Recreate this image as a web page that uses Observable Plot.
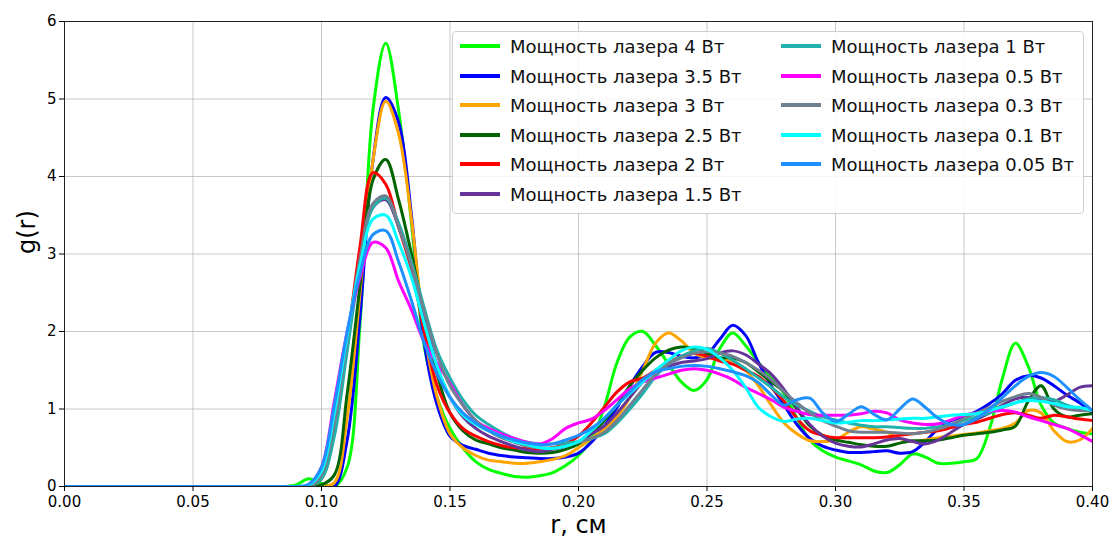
<!DOCTYPE html>
<html>
<head>
<meta charset="utf-8">
<script src="https://cdn.jsdelivr.net/npm/d3@7"></script>
<script src="https://cdn.jsdelivr.net/npm/@observablehq/plot@0.6"></script>
<style>
  html, body { margin: 0; padding: 0; background: #fff; }
  #wrap { position: relative; width: 1114px; height: 544px; font-family: "DejaVu Sans", sans-serif; }
  .legend { position: absolute; left: 452px; top: 31px; width: 632px; height: 183px;
    border: 1px solid #d0d0d0; border-radius: 4px; background: rgba(255,255,255,0.85); box-sizing: border-box; }
  .item { position: absolute; height: 22px; display: flex; align-items: center; font-size: 18px; color: #111; white-space: nowrap; }
  .swatch { width: 40px; height: 4px; margin-right: 10px; }
</style>
</head>
<body>
<div id="wrap"></div>
<script>
// r grid (cm)
const r = [0, 0.08, 0.085, 0.09, 0.095,
  0.1, 0.105, 0.11, 0.115, 0.12,
  0.125, 0.13, 0.135, 0.14, 0.145,
  0.15, 0.155, 0.16, 0.165, 0.17,
  0.175, 0.18, 0.185, 0.19, 0.195,
  0.2, 0.205, 0.21, 0.215, 0.22,
  0.225, 0.23, 0.235, 0.24, 0.245,
  0.25, 0.255, 0.26, 0.265, 0.27,
  0.275, 0.28, 0.285, 0.29, 0.295,
  0.3, 0.305, 0.31, 0.315, 0.32,
  0.325, 0.33, 0.335, 0.34, 0.345,
  0.35, 0.355, 0.36, 0.365, 0.37,
  0.375, 0.38, 0.385, 0.39, 0.395,
  0.4];

const g4 = [0, 0, 0, 0.02, 0.1,
  0.04, 0, 0.25, 2.1, 4.85,
  5.72, 4.85, 3.4, 1.8, 1.15,
  0.75, 0.5, 0.32, 0.22, 0.17,
  0.13, 0.12, 0.14, 0.18, 0.27,
  0.4, 0.6, 1.02, 1.6, 1.93,
  2.0, 1.82, 1.58, 1.35, 1.24,
  1.38, 1.78, 1.98, 1.82, 1.6,
  1.4, 1.2, 0.88, 0.6, 0.46,
  0.38, 0.33, 0.28, 0.2, 0.18,
  0.28, 0.42, 0.38, 0.3, 0.3,
  0.32, 0.36, 0.75, 1.4, 1.85,
  1.55, 1.05, 0.82, 0.75, 0.7,
  0.68];

const g3_5 = [0, 0, 0, 0, 0,
  0, 0, 0.6, 2.2, 4.2,
  5.02, 4.7, 3.5, 1.85, 1.05,
  0.65, 0.53, 0.48, 0.43, 0.4,
  0.38, 0.37, 0.36, 0.36, 0.38,
  0.43, 0.57, 0.78, 1.02, 1.3,
  1.55, 1.73, 1.73, 1.68, 1.66,
  1.71, 1.9, 2.08, 1.95, 1.6,
  1.3, 1.05, 0.8, 0.62, 0.52,
  0.47, 0.44, 0.44, 0.45, 0.46,
  0.43, 0.45, 0.58, 0.75, 0.85,
  0.9, 0.97, 1.07, 1.2, 1.37,
  1.43, 1.4, 1.3, 1.18, 1.08,
  0.95];

const g3 = [0, 0, 0, 0, 0,
  0, 0.05, 0.9, 2.5, 4.2,
  4.97, 4.55, 3.45, 2.0, 1.15,
  0.68, 0.5, 0.4, 0.34, 0.32,
  0.3, 0.3, 0.32, 0.35, 0.4,
  0.5, 0.62, 0.74, 0.9, 1.15,
  1.5, 1.85, 1.98, 1.88, 1.72,
  1.66, 1.64, 1.62, 1.5, 1.3,
  1.05, 0.82, 0.68, 0.59, 0.58,
  0.6, 0.7, 0.77, 0.74, 0.7,
  0.62, 0.58, 0.6, 0.63, 0.65,
  0.67, 0.69, 0.72, 0.75, 0.82,
  0.98, 0.95, 0.72, 0.58, 0.6,
  0.75];

const g2_5 = [0, 0, 0, 0, 0,
  0.02, 0.15, 1.2, 2.6, 3.95,
  4.22, 3.7, 3.0, 2.2, 1.45,
  0.95, 0.72, 0.6, 0.55, 0.5,
  0.47, 0.44, 0.43, 0.44, 0.48,
  0.55, 0.68, 0.85, 1.05, 1.3,
  1.5, 1.66, 1.76, 1.8, 1.78,
  1.72, 1.66, 1.66, 1.6, 1.48,
  1.35, 1.22, 1.0, 0.78, 0.66,
  0.6, 0.57, 0.54, 0.52, 0.52,
  0.56, 0.59, 0.59, 0.6, 0.63,
  0.66, 0.68, 0.7, 0.73, 0.78,
  1.1, 1.3, 1.0, 0.9, 0.92,
  0.94];

const g2 = [0, 0, 0, 0, 0,
  0.1, 0.7, 1.85, 3.1, 4.05,
  3.9, 3.35, 2.8, 2.0, 1.3,
  0.95, 0.75, 0.65, 0.58, 0.53,
  0.5, 0.49, 0.48, 0.5, 0.55,
  0.65, 0.82, 1.02, 1.22, 1.35,
  1.4, 1.5, 1.6, 1.68, 1.72,
  1.68, 1.62, 1.58, 1.5, 1.42,
  1.28, 1.1, 0.88, 0.72, 0.66,
  0.63, 0.63, 0.63, 0.63, 0.64,
  0.66, 0.68, 0.7, 0.72, 0.76,
  0.8, 0.83, 0.88, 0.93, 0.95,
  0.92, 0.88, 0.92, 0.9, 0.87,
  0.85];

const g1_5 = [0, 0, 0, 0, 0,
  0.12, 0.8, 1.85, 2.9, 3.6,
  3.7, 3.35, 2.85, 2.2, 1.55,
  1.15, 0.9, 0.75, 0.65, 0.58,
  0.52, 0.47, 0.45, 0.48, 0.52,
  0.58, 0.68, 0.78, 0.95, 1.15,
  1.35, 1.48, 1.55, 1.6, 1.62,
  1.65, 1.72, 1.75, 1.7, 1.58,
  1.45, 1.25, 1.02, 0.8, 0.65,
  0.56, 0.52, 0.51, 0.55, 0.6,
  0.62, 0.58, 0.55, 0.6, 0.7,
  0.8, 0.87, 0.95, 1.05, 1.13,
  1.15, 1.12, 1.1, 1.18, 1.28,
  1.3];

const g1 = [0, 0, 0, 0, 0,
  0.1, 0.65, 1.75, 2.85, 3.6,
  3.72, 3.4, 2.9, 2.3, 1.75,
  1.4, 1.12, 0.92, 0.8, 0.7,
  0.62, 0.57, 0.55, 0.55, 0.56,
  0.58, 0.62, 0.68, 0.82, 1.0,
  1.2, 1.42, 1.58, 1.68, 1.75,
  1.78, 1.72, 1.63, 1.52, 1.4,
  1.28, 1.15, 1.05, 0.97, 0.9,
  0.86, 0.82, 0.79, 0.77, 0.77,
  0.76, 0.75, 0.75, 0.77, 0.8,
  0.85, 0.9, 0.95, 1.02, 1.08,
  1.13, 1.15, 1.12, 1.05, 1.0,
  0.98];

const g0_5 = [0, 0, 0, 0, 0.02,
  0.25, 1.1, 2.0, 2.7, 3.15,
  3.08, 2.65, 2.28, 1.86, 1.59,
  1.33, 1.05, 0.85, 0.75, 0.68,
  0.62, 0.57, 0.55, 0.62, 0.75,
  0.82, 0.87, 0.98, 1.12, 1.26,
  1.35, 1.4, 1.45, 1.5, 1.52,
  1.5, 1.45, 1.38, 1.28, 1.2,
  1.12, 1.02, 0.97, 0.93, 0.92,
  0.92, 0.92, 0.94, 0.97, 0.95,
  0.86, 0.82, 0.8, 0.81, 0.86,
  0.92, 0.95, 0.97, 0.98, 0.96,
  0.9, 0.85, 0.8, 0.75, 0.67,
  0.58];

const g0_3 = [0, 0, 0, 0, 0,
  0.15, 0.8, 1.9, 2.95, 3.65,
  3.75, 3.35, 2.85, 2.25, 1.7,
  1.3, 1.05, 0.85, 0.72, 0.63,
  0.57, 0.52, 0.5, 0.5, 0.53,
  0.57, 0.62, 0.7, 0.85, 1.05,
  1.25, 1.45, 1.58, 1.66, 1.72,
  1.74, 1.72, 1.68, 1.6, 1.5,
  1.38, 1.22, 1.08, 0.95, 0.85,
  0.78, 0.72, 0.7, 0.7, 0.7,
  0.69, 0.68, 0.7, 0.74, 0.8,
  0.88, 0.95, 1.02, 1.1, 1.16,
  1.2, 1.15, 1.05, 1.0, 0.98,
  0.98];

const g0_1 = [0, 0, 0, 0, 0.02,
  0.2, 0.95, 1.95, 2.85, 3.45,
  3.5, 3.15, 2.7, 2.1, 1.55,
  1.15, 0.92, 0.8, 0.72, 0.65,
  0.58, 0.54, 0.5, 0.49, 0.52,
  0.58, 0.72, 0.88, 1.05, 1.2,
  1.35, 1.5, 1.63, 1.75, 1.8,
  1.77, 1.66, 1.5, 1.28, 1.02,
  0.9, 0.84, 0.87, 0.88, 0.85,
  0.82, 0.83, 0.85, 0.85, 0.86,
  0.87, 0.88, 0.88, 0.9, 0.92,
  0.93, 0.94, 0.98, 1.03, 1.08,
  1.11, 1.1, 1.07, 1.03, 1.02,
  0.98];

const g0_05 = [0, 0, 0, 0, 0.03,
  0.25, 1.05, 2.0, 2.75, 3.25,
  3.3, 2.9, 2.4, 1.85, 1.45,
  1.15, 0.95, 0.82, 0.72, 0.65,
  0.6, 0.56, 0.54, 0.55, 0.6,
  0.66, 0.75, 0.88, 1.05, 1.22,
  1.38, 1.48, 1.52, 1.55, 1.56,
  1.55, 1.52, 1.48, 1.43, 1.34,
  1.18, 1.05, 1.12, 1.14, 0.95,
  0.84, 0.93, 1.03, 0.93, 0.86,
  1.0, 1.13, 1.02, 0.88, 0.8,
  0.8, 0.88, 1.0, 1.15, 1.3,
  1.42, 1.47, 1.42, 1.28, 1.12,
  0.98];

const labels = ["Мощность лазера 4 Вт", "Мощность лазера 3.5 Вт", "Мощность лазера 3 Вт",
  "Мощность лазера 2.5 Вт", "Мощность лазера 2 Вт", "Мощность лазера 1.5 Вт",
  "Мощность лазера 1 Вт", "Мощность лазера 0.5 Вт", "Мощность лазера 0.3 Вт",
  "Мощность лазера 0.1 Вт", "Мощность лазера 0.05 Вт"];
const colors = ["#00ff00", "#0000ff", "#ffa500", "#006400", "#ff0000", "#663399",
  "#20b2aa", "#ff00ff", "#708090", "#00ffff", "#1e90ff"];
const seriesValues = [g4, g3_5, g3, g2_5, g2, g1_5, g1, g0_5, g0_3, g0_1, g0_05];

const xTicks = [0, 0.05, 0.1, 0.15, 0.2, 0.25, 0.3, 0.35, 0.4];
const yTicks = [0, 1, 2, 3, 4, 5, 6];
const xLabel = "r, см";
const yLabel = "g(r)";

const lines = seriesValues.map((vals, i) =>
  Plot.line(vals, {x: r, y: vals, stroke: colors[i], strokeWidth: 3, curve: "catmull-rom", clip: true})
);

const chart = Plot.plot({
  width: 1114, height: 544,
  marginLeft: 64, marginRight: 22, marginTop: 21, marginBottom: 58,
  style: {background: "white", fontFamily: "DejaVu Sans, sans-serif", fontSize: "14px", color: "#000"},
  x: {domain: [0, 0.4]},
  y: {domain: [0, 6]},
  marks: [
    Plot.gridX(xTicks, {stroke: "#b0b0b0", strokeOpacity: 0.7, strokeWidth: 1}),
    Plot.gridY(yTicks, {stroke: "#b0b0b0", strokeOpacity: 0.7, strokeWidth: 1}),
    ...lines,
    Plot.frame({stroke: "#222", strokeWidth: 1}),
    Plot.axisX(xTicks, {tickFormat: d3.format(".2f"), tickSize: 5, tickPadding: 5, fontSize: 15, label: null}),
    Plot.axisY(yTicks, {tickFormat: d => String(d), tickSize: 5, tickPadding: 3, fontSize: 15, label: null}),
    Plot.text([xLabel], {frameAnchor: "bottom", dy: 46, fontSize: 24, text: d => d}),
    Plot.text([yLabel], {frameAnchor: "left", dx: -37, rotate: -90, fontSize: 24, text: d => d})
  ]
});

const wrap = document.getElementById("wrap");
wrap.appendChild(chart);

const legend = document.createElement("div");
legend.className = "legend";
const rowY = [14, 44, 73, 103, 132, 162];
labels.forEach((lab, i) => {
  const col = i < 6 ? 0 : 1;
  const row = i < 6 ? i : i - 6;
  const item = document.createElement("div");
  item.className = "item";
  item.style.left = (col === 0 ? 7 : 328) + "px";
  item.style.top = (rowY[row] - 11) + "px";
  const sw = document.createElement("div");
  sw.className = "swatch";
  sw.style.background = colors[i];
  const tx = document.createElement("span");
  tx.textContent = lab;
  item.appendChild(sw);
  item.appendChild(tx);
  legend.appendChild(item);
});
wrap.appendChild(legend);
</script>
</body>
</html>
